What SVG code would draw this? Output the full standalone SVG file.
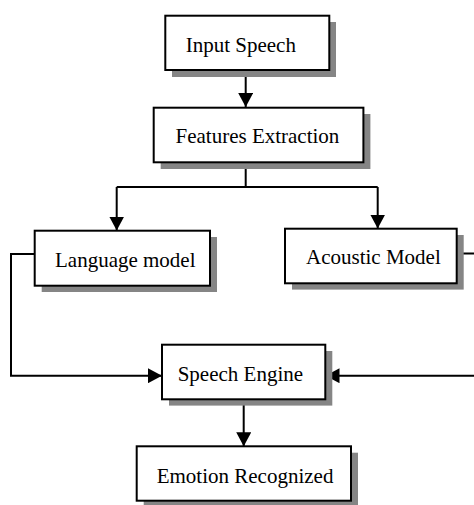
<svg xmlns="http://www.w3.org/2000/svg" width="474" height="505" viewBox="0 0 474 505">
  <style>
    .shadow { fill: #858585; }
    .box { fill: #ffffff; stroke: #000000; stroke-width: 2; }
    .label { font-family: "Liberation Serif", "Times New Roman", serif; font-size: 21px; fill: #000000; }
    .wire { fill: none; stroke: #000000; stroke-width: 2; }
  </style>
  <defs>
    <marker id="head" viewBox="0 0 14 15" refX="14" refY="7.5" markerWidth="14" markerHeight="15" markerUnits="userSpaceOnUse" orient="auto">
      <path d="M0,0 L14,7.5 L0,15 Z" fill="#000000"/>
    </marker>
  </defs>

  <!-- flow connectors -->
  <g id="connectors">
    <path class="wire" d="M245.7,70 V107" marker-end="url(#head)"/>
    <path class="wire" d="M245.7,162 V187"/>
    <path class="wire" d="M116.7,187 H377.7"/>
    <path class="wire" d="M116.7,187 V230.5" marker-end="url(#head)"/>
    <path class="wire" d="M377.7,187 V228.5" marker-end="url(#head)"/>
    <path class="wire" d="M34.7,254 H11 V375.7 H162" marker-end="url(#head)"/>
    <path class="wire" d="M456.7,253.5 H478 V375.7 H325.5" marker-end="url(#head)"/>
    <path class="wire" d="M243.7,399.3 V446.3" marker-end="url(#head)"/>
  </g>

  <g id="input-speech">
    <rect class="shadow" x="172" y="22" width="164" height="55"/>
    <rect class="box" x="165.3" y="15.7" width="164" height="54.3"/>
    <text class="label" x="185.7" y="51.7">Input Speech</text>
  </g>

  <g id="features-extraction">
    <rect class="shadow" x="160.7" y="114" width="209.7" height="55"/>
    <rect class="box" x="153.7" y="107.7" width="209.7" height="54.6"/>
    <text class="label" x="175.5" y="143.3">Features Extraction</text>
  </g>

  <g id="language-model">
    <rect class="shadow" x="41.7" y="237" width="175.3" height="55"/>
    <rect class="box" x="34.7" y="230.7" width="175.3" height="55"/>
    <text class="label" x="55" y="266.5">Language model</text>
  </g>

  <g id="acoustic-model">
    <rect class="shadow" x="292" y="235" width="171.7" height="54.6"/>
    <rect class="box" x="285" y="228.7" width="171.7" height="54.6"/>
    <text class="label" x="306" y="264.3">Acoustic Model</text>
  </g>

  <g id="speech-engine">
    <rect class="shadow" x="169" y="351" width="163.3" height="54.6"/>
    <rect class="box" x="162" y="344.7" width="163.3" height="54.6"/>
    <text class="label" x="177.7" y="381">Speech Engine</text>
  </g>

  <g id="emotion-recognized">
    <rect class="shadow" x="143.7" y="452.7" width="214.3" height="54.4"/>
    <rect class="box" x="136.7" y="446.3" width="214.3" height="54.4"/>
    <text class="label" x="156.7" y="482.7">Emotion Recognized</text>
  </g>
</svg>
